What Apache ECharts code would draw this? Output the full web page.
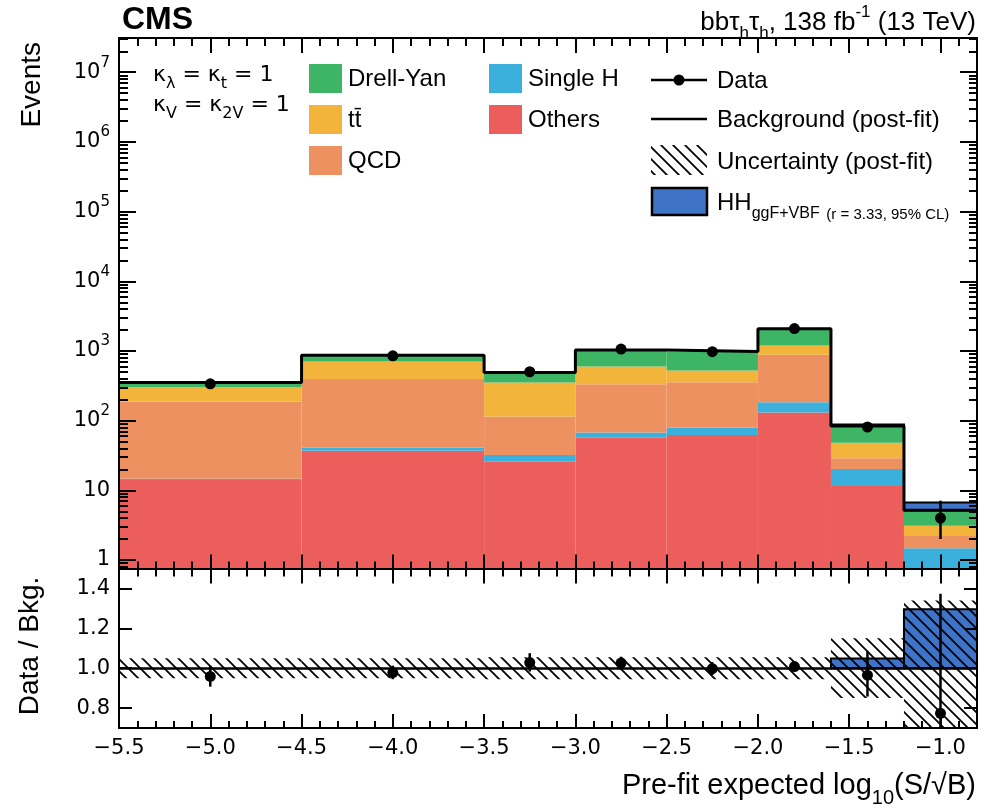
<!DOCTYPE html>
<html>
<head>
<meta charset="utf-8">
<script src="https://cdn.jsdelivr.net/npm/echarts@6/dist/echarts.min.js"></script>
<style>
  html, body { margin: 0; padding: 0; background: #fff; }
  #chart { width: 984px; height: 810px; }
</style>
</head>
<body>
<div id="chart"></div>
<script>
// Bin edges of the pre-fit expected log10(S/sqrt(B)) discriminant
const binEdges = [-5.5, -4.5, -3.5, -3.0, -2.5, -2.0, -1.6, -1.2, -0.8];

// Post-fit background yields per bin (events), stacked bottom to top
const others   = [14.1, 37.1, 25.8, 57.0, 62.4, 130.4, 11.55, 0];
const singleH  = [0.5, 3.9, 6.4, 10.3, 17.0, 53.6, 8.7, 1.47];
const qcd      = [172.9, 356, 82, 266, 277, 695, 8.6, 0.74];
const ttbar    = [114.5, 307, 237, 263, 167, 316, 19.4, 0.90];
const drellYan = [50.6, 166, 138, 440, 456, 880, 35.7, 2.06];

// HH (ggF + VBF) signal scaled to r = 3.33
const signalHH = [0, 0, 0, 0, 0, 0, 4.1, 1.53];

// Observed events
const dataX     = [-5.0, -4.0, -3.25, -2.75, -2.25, -1.8, -1.4, -1.0];
const dataY     = [338, 851, 503, 1063, 977, 2092, 81, 4];
const dataErrLo = [18, 29, 22, 33, 31, 46, 9, 2.0];
const dataErrHi = [19, 30, 23, 33, 32, 46, 10, 3.1];

// Relative post-fit background uncertainty per bin
const bkgRelUnc = [0.05, 0.05, 0.055, 0.055, 0.055, 0.055, 0.15, 0.34];

// Tick positions and labels
const xMajorTicks = [-5.5, -5.0, -4.5, -4.0, -3.5, -3.0, -2.5, -2.0, -1.5, -1.0];
const yDecades    = [1, 10, 100, 1e3, 1e4, 1e5, 1e6, 1e7];
const ratioTicks  = [0.8, 1.0, 1.2, 1.4];

// Axis ranges
const X_MIN = -5.5, X_MAX = -0.8;
const Y_MIN = 0.755, Y_MAX = 3.1e7;
const R_MIN = 0.7, R_MAX = 1.5;

const xMinorTicks = [];
for (let i = 0; i <= 47; i++) xMinorTicks.push(Math.round((X_MIN + 0.1 * i) * 10) / 10);
const yMinorTicks = [];
for (let e = -1; e <= 7; e++) for (let k = 2; k <= 9; k++) {
  const v = k * Math.pow(10, e);
  if (v > Y_MIN && v < Y_MAX) yMinorTicks.push(v);
}

const colors = {
  dy: '#3db565', tt: '#f2b43b', qcd: '#ee9160', sh: '#3cb0dc', oth: '#ec5e5b', hh: '#3f73c7'
};

const SANS = 'Liberation Sans';
const TICKFONT = 'DejaVu Sans';

// Diagonal hatch used for the uncertainty band
function makeHatch(step, width) {
  const c = document.createElement('canvas');
  c.width = step; c.height = step;
  const g = c.getContext('2d');
  g.strokeStyle = '#000';
  g.lineWidth = width;
  g.beginPath();
  g.moveTo(-1, -1); g.lineTo(step + 1, step + 1);
  g.moveTo(step - 1, -1); g.lineTo(step + 1, 1);
  g.moveTo(-1, step - 1); g.lineTo(1, step + 1);
  g.stroke();
  return c;
}
const hatchFill = { image: makeHatch(12, 1.8), repeat: 'repeat' };

// Stack the background components
const layers = [
  { name: 'Others', vals: others, color: colors.oth },
  { name: 'Single H', vals: singleH, color: colors.sh },
  { name: 'QCD', vals: qcd, color: colors.qcd },
  { name: 'tt\u0304', vals: ttbar, color: colors.tt },
  { name: 'Drell-Yan', vals: drellYan, color: colors.dy }
];
const nBins = binEdges.length - 1;
const base = new Array(nBins).fill(0);
const layerItems = layers.map(function (l) {
  const items = [];
  for (let i = 0; i < nBins; i++) {
    const v = l.vals[i];
    if (v > 0) items.push([binEdges[i], binEdges[i + 1], base[i] > 0 ? base[i] : Y_MIN, base[i] + v]);
    base[i] += v;
  }
  return items;
});
const bkgTotal = base.slice();

function binRect(fill, stroke, yLo, yHi) {
  return function (params, api) {
    const lo = Math.max(api.value(2), yLo);
    const hi = Math.min(api.value(3), yHi);
    const p0 = api.coord([api.value(0), hi]);
    const p1 = api.coord([api.value(1), lo]);
    return {
      type: 'rect',
      shape: { x: p0[0], y: p0[1], width: p1[0] - p0[0], height: p1[1] - p0[1] },
      style: { fill: fill, stroke: stroke || null, lineWidth: stroke ? 2 : 0 }
    };
  };
}

function pointErr(yLo, yHi) {
  return function (params, api) {
    const x = api.value(0);
    const lo = Math.max(api.value(2), yLo);
    const hi = Math.min(api.value(3), yHi);
    const pLo = api.coord([x, lo]);
    const pHi = api.coord([x, hi]);
    const p = api.coord([x, api.value(1)]);
    return {
      type: 'group',
      children: [
        { type: 'line', shape: { x1: pLo[0], y1: pLo[1], x2: pHi[0], y2: pHi[1] }, style: { stroke: '#000', lineWidth: 2.5 } },
        { type: 'circle', shape: { cx: p[0], cy: p[1], r: 5.5 }, style: { fill: '#000' } }
      ]
    };
  };
}

// Series for the upper panel
const series = [];
layers.forEach(function (l, k) {
  series.push({
    name: l.name, type: 'custom', xAxisIndex: 0, yAxisIndex: 0,
    renderItem: binRect(l.color, null, Y_MIN, Y_MAX),
    encode: { x: [0, 1], y: [2, 3] },
    data: layerItems[k], z: 2, silent: true
  });
});

const hhItems = [];
for (let i = 0; i < nBins; i++) {
  if (signalHH[i] > 0) hhItems.push([binEdges[i], binEdges[i + 1], bkgTotal[i], bkgTotal[i] + signalHH[i]]);
}
series.push({
  name: 'HH', type: 'custom', xAxisIndex: 0, yAxisIndex: 0,
  renderItem: binRect(colors.hh, '#000', Y_MIN, Y_MAX),
  encode: { x: [0, 1], y: [2, 3] }, data: hhItems, z: 3, silent: true
});

const outline = binEdges.map(function (e, i) { return [e, bkgTotal[Math.min(i, nBins - 1)]]; });
series.push({
  name: 'Background (post-fit)', type: 'line', xAxisIndex: 0, yAxisIndex: 0,
  step: 'end', data: outline, symbol: 'none', showSymbol: false,
  lineStyle: { color: '#000', width: 3 }, z: 4, silent: true
});

series.push({
  name: 'Data', type: 'custom', xAxisIndex: 0, yAxisIndex: 0,
  renderItem: pointErr(Y_MIN, Y_MAX),
  encode: { x: 0, y: 1 },
  data: dataX.map(function (x, i) { return [x, dataY[i], dataY[i] - dataErrLo[i], dataY[i] + dataErrHi[i]]; }),
  z: 6, silent: true
});

// Series for the ratio panel
const hhRatioItems = [];
for (let i = 0; i < nBins; i++) {
  if (signalHH[i] > 0) hhRatioItems.push([binEdges[i], binEdges[i + 1], 1, 1 + signalHH[i] / bkgTotal[i]]);
}
series.push({
  name: 'HH ratio', type: 'custom', xAxisIndex: 4, yAxisIndex: 4,
  renderItem: binRect(colors.hh, '#000', R_MIN, R_MAX),
  encode: { x: [0, 1], y: [2, 3] }, data: hhRatioItems, z: 2, silent: true
});
series.push({
  name: 'Uncertainty (post-fit)', type: 'custom', xAxisIndex: 4, yAxisIndex: 4,
  renderItem: binRect(hatchFill, null, R_MIN, R_MAX),
  encode: { x: [0, 1], y: [2, 3] },
  data: bkgRelUnc.map(function (u, i) { return [binEdges[i], binEdges[i + 1], 1 - u, 1 + u]; }),
  z: 3, silent: true,
  markLine: {
    silent: true, symbol: ['none', 'none'], animation: false,
    label: { show: false },
    lineStyle: { color: '#000', width: 2.5, type: 'solid' },
    data: [{ yAxis: 1 }]
  }
});
series.push({
  name: 'Data / Bkg.', type: 'custom', xAxisIndex: 4, yAxisIndex: 4,
  renderItem: pointErr(R_MIN, R_MAX),
  encode: { x: 0, y: 1 },
  data: dataX.map(function (x, i) {
    const b = bkgTotal[i];
    return [x, dataY[i] / b, (dataY[i] - dataErrLo[i]) / b, (dataY[i] + dataErrHi[i]) / b];
  }),
  z: 6, silent: true
});

// Axes: every panel has a frame with inward major and minor ticks on all sides
const tickStyle = { color: '#000', width: 2 };
const frameLine = { color: '#000', width: 2 };
function xAx(grid, position, ticks, len, frame, label) {
  return {
    type: 'value', gridIndex: grid, position: position, min: X_MIN, max: X_MAX, z: 10,
    axisLine: { show: frame, onZero: false, lineStyle: frameLine },
    axisTick: { show: true, inside: true, length: len, customValues: ticks, lineStyle: tickStyle },
    axisLabel: label ? Object.assign({ customValues: ticks }, label) : { show: false },
    splitLine: { show: false }
  };
}
function yAx(grid, type, position, min, max, ticks, len, frame, label) {
  const a = {
    type: type, gridIndex: grid, position: position, min: min, max: max, z: 10,
    axisLine: { show: frame, onZero: false, lineStyle: frameLine },
    axisTick: { show: true, inside: true, length: len, customValues: ticks, lineStyle: tickStyle },
    axisLabel: label ? Object.assign({ customValues: ticks }, label) : { show: false },
    splitLine: { show: false }
  };
  if (type === 'log') a.logBase = 10;
  return a;
}

const xLabel = {
  show: true, color: '#000', fontFamily: TICKFONT, fontSize: 21, margin: 10,
  formatter: function (v) { return (v < 0 ? '\u2212' : '') + Math.abs(v).toFixed(1); }
};
const yLogLabel = {
  show: true, color: '#000', fontFamily: TICKFONT, fontSize: 21, margin: 9,
  lineHeight: 34,
  formatter: function (v) {
    if (v === 1) return '1';
    if (v === 10) return '10';
    return '10{sup|' + Math.round(Math.log10(v)) + '}';
  },
  rich: { sup: { fontFamily: TICKFONT, fontSize: 15, lineHeight: 15, verticalAlign: 'top', color: '#000' } }
};
const yRatioLabel = {
  show: true, color: '#000', fontFamily: TICKFONT, fontSize: 21, margin: 9,
  formatter: function (v) { return v.toFixed(1); }
};

const xAxes = [
  xAx(0, 'bottom', xMajorTicks, 14, true, null),
  xAx(0, 'bottom', xMinorTicks, 7, false, null),
  xAx(0, 'top', xMajorTicks, 15, true, null),
  xAx(0, 'top', xMinorTicks, 8, false, null),
  xAx(1, 'bottom', xMajorTicks, 14, true, xLabel),
  xAx(1, 'bottom', xMinorTicks, 7, false, null),
  xAx(1, 'top', xMajorTicks, 15, true, null),
  xAx(1, 'top', xMinorTicks, 8, false, null)
];
const yAxes = [
  yAx(0, 'log', 'left', Y_MIN, Y_MAX, yDecades, 17, true, yLogLabel),
  yAx(0, 'log', 'left', Y_MIN, Y_MAX, yMinorTicks, 9, false, null),
  yAx(0, 'log', 'right', Y_MIN, Y_MAX, yDecades, 17, true, null),
  yAx(0, 'log', 'right', Y_MIN, Y_MAX, yMinorTicks, 8, false, null),
  yAx(1, 'value', 'left', R_MIN, R_MAX, ratioTicks, 13, true, yRatioLabel),
  yAx(1, 'value', 'right', R_MIN, R_MAX, ratioTicks, 13, true, null)
];

// Text, labels and the legend
function txt(x, y, text, opt) {
  return {
    type: 'text', x: x, y: y, z: 20, rotation: opt.rotation || 0, silent: true,
    style: Object.assign({
      text: text, fill: '#000', fontFamily: SANS, fontSize: 24,
      align: 'left', verticalAlign: 'middle'
    }, opt.style || {})
  };
}
const subRich = function (size) {
  return {
    sub: { fontFamily: SANS, fontSize: size, lineHeight: size, verticalAlign: 'bottom', fill: '#000' },
    sup: { fontFamily: SANS, fontSize: size, lineHeight: size, verticalAlign: 'top', fill: '#000' }
  };
};

const graphic = [
  txt(122, 20, 'CMS', { style: { fontSize: 32, fontWeight: 'bold' } }),
  txt(976, 23, 'bb\u03c4{sub|h}\u03c4{sub|h}, 138 fb{sup|-1} (13 TeV)', {
    style: { align: 'right', fontSize: 26, lineHeight: 38, rich: subRich(17) }
  }),
  txt(153, 75, '\u03ba{sub|\u03bb} = \u03ba{sub|t} = 1', {
    style: { fontFamily: TICKFONT, fontSize: 22, lineHeight: 34, rich: {
      sub: { fontFamily: TICKFONT, fontSize: 16, lineHeight: 16, verticalAlign: 'bottom', fill: '#000' } } }
  }),
  txt(153, 105, '\u03ba{sub|V} = \u03ba{sub|2V} = 1', {
    style: { fontFamily: TICKFONT, fontSize: 22, lineHeight: 34, rich: {
      sub: { fontFamily: TICKFONT, fontSize: 16, lineHeight: 16, verticalAlign: 'bottom', fill: '#000' } } }
  }),
  txt(32, 42, 'Events', { rotation: Math.PI / 2, style: { align: 'right', fontSize: 28 } }),
  txt(30, 646, 'Data / Bkg.', { rotation: Math.PI / 2, style: { align: 'center', fontSize: 28 } }),
  txt(976, 786, 'Pre-fit expected log{sub|10}(S/\u221aB)', {
    style: { align: 'right', fontSize: 29, lineHeight: 44, rich: subRich(20) }
  })
];

// Legend: filled boxes for the stacked components
const boxLegend = [
  { x: 309, y: 64, color: colors.dy, label: 'Drell-Yan' },
  { x: 309, y: 105, color: colors.tt, label: 'tt\u0304' },
  { x: 309, y: 146, color: colors.qcd, label: 'QCD' },
  { x: 489, y: 64, color: colors.sh, label: 'Single H' },
  { x: 489, y: 105, color: colors.oth, label: 'Others' }
];
boxLegend.forEach(function (b) {
  graphic.push({ type: 'rect', z: 20, silent: true, shape: { x: b.x, y: b.y, width: 33, height: 29 }, style: { fill: b.color } });
  graphic.push(txt(b.x + 39, b.y + 15.5, b.label, {}));
});
// Legend: data, background line, uncertainty and signal
graphic.push({ type: 'line', z: 20, silent: true, shape: { x1: 651, y1: 80, x2: 707, y2: 80 }, style: { stroke: '#000', lineWidth: 2.5 } });
graphic.push({ type: 'circle', z: 20, silent: true, shape: { cx: 679, cy: 80, r: 5.5 }, style: { fill: '#000' } });
graphic.push(txt(717, 81, 'Data', {}));
graphic.push({ type: 'line', z: 20, silent: true, shape: { x1: 651, y1: 119, x2: 707, y2: 119 }, style: { stroke: '#000', lineWidth: 2.5 } });
graphic.push(txt(717, 120, 'Background (post-fit)', {}));
graphic.push({ type: 'rect', z: 20, silent: true, shape: { x: 651, y: 145, width: 56, height: 30 }, style: { fill: hatchFill } });
graphic.push(txt(717, 162, 'Uncertainty (post-fit)', {}));
graphic.push({ type: 'rect', z: 20, silent: true, shape: { x: 652, y: 188, width: 55, height: 27 }, style: { fill: colors.hh, stroke: '#000', lineWidth: 2.5 } });
graphic.push(txt(717, 203, 'HH{sub|ggF+VBF} {note|(r = 3.33, 95% CL)}', {
  style: { lineHeight: 38, rich: {
    sub: { fontFamily: SANS, fontSize: 16, lineHeight: 16, verticalAlign: 'bottom', fill: '#000' },
    note: { fontFamily: SANS, fontSize: 15, lineHeight: 26, verticalAlign: 'bottom', fill: '#000' }
  } }
}));

const chart = echarts.init(document.getElementById('chart'), null, { renderer: 'canvas', width: 984, height: 810 });
chart.setOption({
  animation: false,
  backgroundColor: '#fff',
  grid: [
    { left: 119, top: 38, width: 858, height: 530.5 },
    { left: 119, top: 568.5, width: 858, height: 159.5 }
  ],
  xAxis: xAxes,
  yAxis: yAxes,
  series: series,
  graphic: graphic
});
</script>
</body>
</html>
